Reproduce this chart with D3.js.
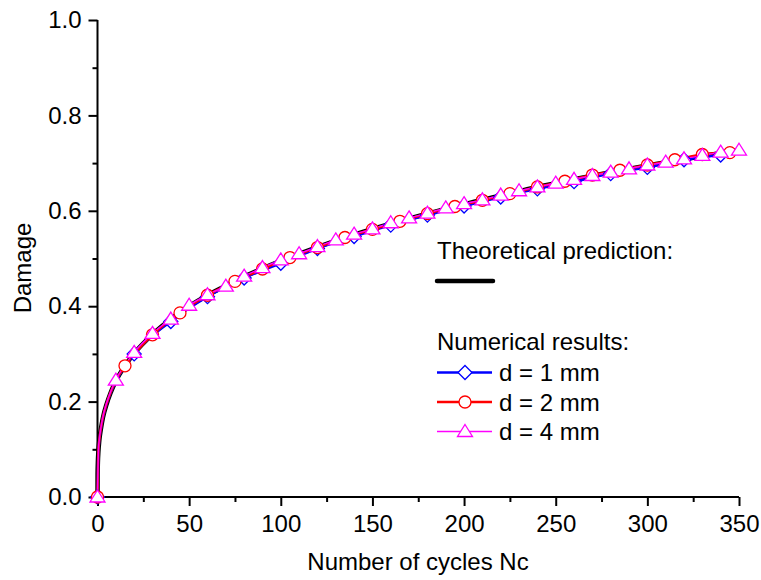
<!DOCTYPE html>
<html>
<head>
<meta charset="utf-8">
<script src="https://cdnjs.cloudflare.com/ajax/libs/d3/7.8.5/d3.min.js"></script>
<style>
  body { margin: 0; background: #fff; }
  svg { font-family: "Liberation Sans", Arial, Helvetica, sans-serif; }
  .axis path, .axis line { stroke: #000; stroke-width: 2; }
  .axis text { font-size: 24px; fill: #000; }
</style>
</head>
<body>
<div id="chart"></div>
<script>
// theoretical curve
var theoryN = [0, 0.05, 0.2, 0.5, 1, 2, 3, 5, 7, 10, 15, 20, 30, 40, 50, 60, 70, 80, 90, 100,
               120, 140, 160, 180, 200, 220, 240, 260, 280, 300, 320, 340, 350];
var theoryD = [0, 0.047, 0.072, 0.096, 0.119, 0.146, 0.167, 0.195, 0.217, 0.243, 0.275, 0.301,
               0.341, 0.373, 0.400, 0.423, 0.443, 0.462, 0.479, 0.495, 0.524, 0.550, 0.573,
               0.594, 0.614, 0.632, 0.650, 0.666, 0.681, 0.695, 0.708, 0.721, 0.727];

// numerical results, d = 4 mm (marker every 10 cycles)
var d4N = [0, 0.5, 1, 2, 3, 5, 7, 10, 20, 30, 40, 50, 60, 70, 80, 90, 100, 110, 120, 130, 140,
           150, 160, 170, 180, 190, 200, 210, 220, 230, 240, 250, 260, 270, 280, 290, 300,
           310, 320, 330, 340, 350];
var d4D = [0, 0.098, 0.121, 0.148, 0.169, 0.197, 0.219, 0.245, 0.303, 0.343, 0.373, 0.402,
           0.424, 0.442, 0.463, 0.481, 0.497, 0.510, 0.525, 0.539, 0.551, 0.562, 0.575, 0.585,
           0.595, 0.606, 0.615, 0.623, 0.633, 0.642, 0.650, 0.658, 0.666, 0.674, 0.681, 0.688,
           0.696, 0.702, 0.709, 0.716, 0.723, 0.727];

// d = 2 mm (marker every 15 cycles)
var d2N = [0, 0.5, 1, 2, 3, 5, 7, 10, 15, 30, 45, 60, 75, 90, 105, 120, 135, 150, 165, 180,
           195, 210, 225, 240, 255, 270, 285, 300, 315, 330, 345];
var d2D = [0, 0.097, 0.120, 0.147, 0.168, 0.196, 0.218, 0.244, 0.275, 0.340, 0.386, 0.423,
           0.452, 0.478, 0.502, 0.523, 0.544, 0.561, 0.578, 0.594, 0.609, 0.622, 0.636, 0.650,
           0.662, 0.675, 0.685, 0.696, 0.707, 0.718, 0.722];

// d = 1 mm (marker every 20 cycles)
var d1N = [0, 0.5, 1, 2, 3, 5, 7, 10, 20, 40, 60, 80, 100, 120, 140, 160, 180, 200, 220, 240,
           260, 280, 300, 320, 340];
var d1D = [0, 0.096, 0.119, 0.146, 0.167, 0.195, 0.217, 0.242, 0.300, 0.368, 0.420, 0.459,
           0.490, 0.521, 0.546, 0.570, 0.591, 0.610, 0.629, 0.646, 0.661, 0.678, 0.691, 0.707,
           0.717];

var xTicks = [0, 50, 100, 150, 200, 250, 300, 350];
var yTicks = [0.0, 0.2, 0.4, 0.6, 0.8, 1.0];

var series = [
  {name: "d = 1 mm", N: d1N, D: d1D, step: 20, color: "#0000ff", width: 2.5, shape: "diamond"},
  {name: "d = 2 mm", N: d2N, D: d2D, step: 15, color: "#ff0000", width: 2.5, shape: "circle"},
  {name: "d = 4 mm", N: d4N, D: d4D, step: 10, color: "#ff00ff", width: 1.5, shape: "triangle"}
];

var width = 761, height = 580;
var x = d3.scaleLinear().domain([0, 350]).range([97.5, 739]);
var y = d3.scaleLinear().domain([0, 1]).range([497, 20]);

var svg = d3.select("#chart").append("svg")
    .attr("width", width)
    .attr("height", height);

// axes
var xMinor = d3.axisBottom(x).tickValues(d3.range(25, 350, 50)).tickSize(5).tickFormat("");
var yMinor = d3.axisLeft(y).tickValues([0.1, 0.3, 0.5, 0.7, 0.9]).tickSize(5).tickFormat("");

svg.append("g")
    .attr("class", "x axis")
    .attr("transform", "translate(0," + y(0) + ")")
    .call(d3.axisBottom(x).tickValues(xTicks).tickSize(9).tickSizeOuter(0).tickPadding(9))
    .call(function(g) { g.select(".domain").attr("d", "M" + x(0) + ",0H" + x(350)); });
svg.append("g")
    .attr("class", "x axis")
    .attr("transform", "translate(0," + y(0) + ")")
    .call(xMinor)
    .select(".domain").remove();

svg.append("g")
    .attr("class", "y axis")
    .attr("transform", "translate(" + x(0) + ",0)")
    .call(d3.axisLeft(y).tickValues(yTicks).tickSize(9).tickSizeOuter(0).tickPadding(7)
          .tickFormat(d3.format(".1f")))
    .call(function(g) { g.select(".domain").attr("d", "M0," + y(0) + "V" + y(1)); });
svg.append("g")
    .attr("class", "y axis")
    .attr("transform", "translate(" + x(0) + ",0)")
    .call(yMinor)
    .select(".domain").remove();

svg.append("text")
    .attr("x", 418).attr("y", 570)
    .attr("text-anchor", "middle")
    .style("font-size", "24px")
    .text("Number of cycles Nc");

svg.append("text")
    .attr("transform", "translate(31,268) rotate(-90)")
    .attr("text-anchor", "middle")
    .style("font-size", "24px")
    .text("Damage");

// curves
var line = d3.line()
    .x(function(d) { return x(d[0]); })
    .y(function(d) { return y(d[1]); })
    .curve(d3.curveMonotoneX);

svg.append("path")
    .datum(d3.zip(theoryN, theoryD))
    .attr("d", line)
    .attr("fill", "none")
    .attr("stroke", "#000")
    .attr("stroke-width", 4.5);

function drawMarker(g, shape, color) {
  if (shape === "diamond") {
    g.append("path").attr("d", "M0,-7L7,0L0,7L-7,0Z");
  } else if (shape === "circle") {
    g.append("circle").attr("r", 6);
  } else {
    g.append("path").attr("d", "M0,-7L7.5,5L-7.5,5Z");
  }
  g.selectAll("path,circle")
    .attr("fill", "#fff")
    .attr("stroke", color)
    .attr("stroke-width", 1.3);
}

series.forEach(function(s) {
  svg.append("path")
      .datum(d3.zip(s.N, s.D))
      .attr("d", line)
      .attr("fill", "none")
      .attr("stroke", s.color)
      .attr("stroke-width", s.width);
});

series.forEach(function(s) {
  d3.zip(s.N, s.D).filter(function(d) { return d[0] % s.step === 0; }).forEach(function(d) {
    var g = svg.append("g").attr("transform", "translate(" + x(d[0]) + "," + y(d[1]) + ")");
    drawMarker(g, s.shape, s.color);
  });
});

// legend
var leg = svg.append("g").style("font-size", "24px");
leg.append("text").attr("x", 437).attr("y", 259).text("Theoretical prediction:");
leg.append("line")
    .attr("x1", 437).attr("x2", 493).attr("y1", 281).attr("y2", 281)
    .attr("stroke", "#000").attr("stroke-width", 4.5).attr("stroke-linecap", "round");
leg.append("text").attr("x", 437).attr("y", 350).text("Numerical results:");

series.forEach(function(s, i) {
  var ly = 372.5 + i * 29.5;
  leg.append("line")
      .attr("x1", 437).attr("x2", 492).attr("y1", ly).attr("y2", ly)
      .attr("stroke", s.color).attr("stroke-width", s.width);
  drawMarker(leg.append("g").attr("transform", "translate(465," + ly + ")"), s.shape, s.color);
  leg.append("text").attr("x", 499).attr("y", ly + 8.5).text(s.name);
});
</script>
</body>
</html>
